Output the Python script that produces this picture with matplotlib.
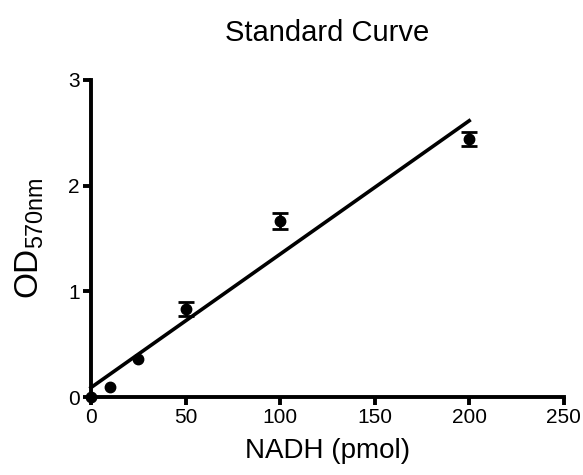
import numpy as np
import matplotlib
matplotlib.use("Agg")
import matplotlib.pyplot as plt

plt.rcParams['font.family'] = ['Liberation Sans', 'DejaVu Sans']
plt.rcParams['mathtext.fontset'] = 'custom'
plt.rcParams['mathtext.rm'] = 'Liberation Sans'

# donnees
nadh = [0, 10, 25, 50, 100, 200]
od = [0.0, 0.10, 0.36, 0.83, 1.665, 2.44]
# barres plus courtes que le marqueur : non dessinees
od_err = [np.nan, np.nan, np.nan, 0.065, 0.08, 0.065]
x_ticks = [0, 50, 100, 150, 200, 250]
y_ticks = [0, 1, 2, 3]

fig = plt.figure(figsize=(5.83, 4.75), dpi=100)
ax = fig.add_axes([0.156, 0.164, 0.811, 0.668])

# droite de regression
pente, origine = np.polyfit(nadh, od, 1)
xs = np.array([0, max(nadh)])
ax.plot(xs, pente * xs + origine, color='black', lw=2.6, clip_on=False)

ax.errorbar(nadh, od, yerr=od_err, fmt='o', color='black', ms=7.5,
            elinewidth=2, capsize=5.5, capthick=2, clip_on=False, zorder=3)

ax.set_xlim(0, 250)
ax.set_ylim(0, 3)
ax.set_xticks(x_ticks)
ax.set_yticks(y_ticks)

for s in ['top', 'right']:
    ax.spines[s].set_visible(False)
for s in ['left', 'bottom']:
    ax.spines[s].set_linewidth(2.8)
ax.tick_params(width=2.8, length=6, labelsize=15, pad=2)

ax.set_title('Standard Curve', fontsize=21, pad=28)
ax.set_xlabel('NADH (pmol)', fontsize=20, labelpad=8)
ax.set_ylabel(r'OD$_{\mathregular{570nm}}$', fontsize=24, labelpad=16)

fig.savefig('out.png', dpi=100)
